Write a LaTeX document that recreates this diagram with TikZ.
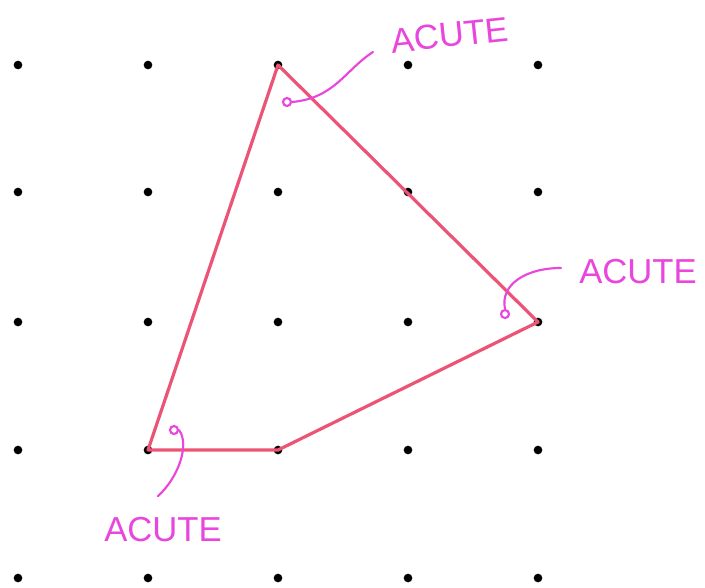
\documentclass[tikz,border=0pt]{standalone}
\usepackage{fontspec}
\setmainfont{Liberation Sans}
\definecolor{edgepink}{RGB}{236,84,118}
\definecolor{labmag}{RGB}{232,70,220}
\begin{document}
\begin{tikzpicture}[x=0.75pt,y=-0.75pt,
  griddot/.style={circle,fill=black,inner sep=0pt,minimum size=6.5pt},
  edge/.style={draw=edgepink,line width=2.4pt,line cap=round,line join=round},
  lab/.style={text=labmag,font=\fontsize{26}{28}\selectfont,inner sep=0pt},
  ptr/.style={draw=labmag,line width=1.6pt,line cap=round},
  ring/.style={circle,draw=labmag,line width=1.6pt,inner sep=0pt,minimum size=6pt}]
\useasboundingbox (0,0) rectangle (705,587);
\foreach \i/\x in {0/18,1/148,2/278,3/408,4/538}{
  \foreach \j/\y in {0/65,1/192,2/322,3/450,4/578}{
    \node[griddot] (d\i\j) at (\x,\y) {};
  }
}
\draw[edge] (d20.center) -- (d42.center) -- (d23.center) -- (d13.center) -- cycle;
% labels
\node[lab,rotate=6] (lt) at (450,35) {ACUTE};
\node[lab] (lr) at (638,272) {ACUTE};
\node[lab] (lb) at (163,530) {ACUTE};
% rings
\node[ring] (rt) at (287,102) {};
\node[ring] (rr) at (505,314) {};
\node[ring] (rb) at (174,430) {};
% pointers
\coordinate (pt) at (373,52);
\coordinate (pr) at (561,268);
\coordinate (pb) at (158,496);
\draw[ptr] (pt) .. controls (345,70) and (335,98) .. (rt.east);
\draw[ptr] (pr) .. controls (525,268) and (500,285) .. (rr.north);
\draw[ptr] (pb) .. controls (178,478) and (190,445) .. (rb.east);
\end{tikzpicture}
\end{document}
